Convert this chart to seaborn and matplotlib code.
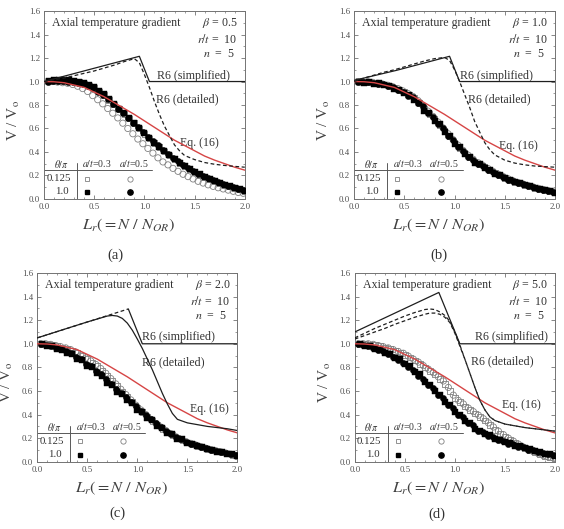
import matplotlib
matplotlib.use("Agg")
import matplotlib.pyplot as plt
import seaborn as sns

# Lr positions of the test points (circles sit just left of the squares)
lr_sq = [0.05, 0.1, 0.15, 0.2, 0.25, 0.3, 0.35, 0.4, 0.45, 0.5,
         0.55, 0.6, 0.65, 0.7, 0.75, 0.8, 0.85, 0.9, 0.95, 1.0,
         1.05, 1.1, 1.15, 1.2, 1.25, 1.3, 1.35, 1.4, 1.45, 1.5,
         1.55, 1.6, 1.65, 1.7, 1.75, 1.8, 1.85, 1.9, 1.95, 2.0]
lr_ci = [0.035, 0.085, 0.135, 0.185, 0.235, 0.285, 0.335, 0.385, 0.435, 0.485,
         0.535, 0.585, 0.635, 0.685, 0.735, 0.785, 0.835, 0.885, 0.935, 0.985,
         1.035, 1.085, 1.135, 1.185, 1.235, 1.285, 1.335, 1.385, 1.435, 1.485,
         1.535, 1.585, 1.635, 1.685, 1.735, 1.785, 1.835, 1.885, 1.935, 1.985]

# (a) beta = 0.5
a_sq_open = [1.0, 1.005, 1.005, 1.005, 1.005, 1.0, 0.995, 0.985, 0.965, 0.945,
             0.915, 0.885, 0.845, 0.805, 0.765, 0.725, 0.685, 0.645, 0.6, 0.555,
             0.515, 0.475, 0.44, 0.405, 0.37, 0.335, 0.305, 0.275, 0.25, 0.225,
             0.205, 0.185, 0.165, 0.148, 0.132, 0.118, 0.105, 0.092, 0.08, 0.068]
a_ci_open = [1.0, 1.0, 0.995, 0.99, 0.985, 0.975, 0.96, 0.94, 0.915, 0.88,
             0.845, 0.81, 0.77, 0.73, 0.69, 0.645, 0.6, 0.555, 0.51, 0.47,
             0.43, 0.39, 0.35, 0.315, 0.29, 0.26, 0.235, 0.21, 0.19, 0.17,
             0.15, 0.135, 0.12, 0.107, 0.095, 0.085, 0.075, 0.065, 0.055, 0.048]
a_sq_fill = [1.005, 1.01, 1.01, 1.01, 1.01, 1.005, 1.0, 0.99, 0.97, 0.95,
             0.92, 0.89, 0.85, 0.81, 0.77, 0.73, 0.69, 0.65, 0.605, 0.56,
             0.52, 0.48, 0.445, 0.41, 0.375, 0.34, 0.31, 0.28, 0.255, 0.23,
             0.21, 0.19, 0.17, 0.15, 0.135, 0.12, 0.107, 0.095, 0.082, 0.07]
a_ci_fill = [1.0, 1.005, 1.005, 1.005, 1.0, 0.995, 0.99, 0.98, 0.965, 0.945,
             0.915, 0.885, 0.85, 0.81, 0.77, 0.73, 0.69, 0.65, 0.61, 0.57,
             0.53, 0.49, 0.455, 0.42, 0.385, 0.35, 0.32, 0.29, 0.265, 0.24,
             0.215, 0.195, 0.175, 0.16, 0.14, 0.125, 0.11, 0.098, 0.085, 0.075]

# (b) beta = 1.0
b_sq_open = [1.0, 1.0, 0.995, 0.99, 0.98, 0.975, 0.96, 0.95, 0.93, 0.91,
             0.885, 0.86, 0.815, 0.77, 0.725, 0.68, 0.63, 0.58, 0.53, 0.48,
             0.435, 0.39, 0.355, 0.32, 0.295, 0.27, 0.245, 0.22, 0.2, 0.18,
             0.162, 0.145, 0.132, 0.12, 0.107, 0.095, 0.085, 0.075, 0.065, 0.055]
b_ci_open = [1.0, 1.0, 0.998, 0.993, 0.985, 0.978, 0.968, 0.955, 0.94, 0.92,
             0.898, 0.873, 0.838, 0.793, 0.748, 0.703, 0.655, 0.605, 0.555, 0.505,
             0.458, 0.413, 0.373, 0.338, 0.308, 0.283, 0.258, 0.233, 0.21, 0.19,
             0.171, 0.153, 0.138, 0.126, 0.113, 0.101, 0.09, 0.08, 0.07, 0.06]
b_sq_fill = [1.0, 0.99, 1.0, 0.98, 0.985, 0.97, 0.965, 0.94, 0.93, 0.9,
             0.885, 0.84, 0.82, 0.75, 0.73, 0.66, 0.64, 0.57, 0.54, 0.47,
             0.44, 0.38, 0.36, 0.31, 0.3, 0.26, 0.25, 0.215, 0.2, 0.175,
             0.165, 0.14, 0.135, 0.115, 0.11, 0.09, 0.088, 0.072, 0.068, 0.053]
b_ci_fill = [1.0, 0.995, 1.0, 0.985, 0.98, 0.975, 0.96, 0.95, 0.925, 0.915,
             0.88, 0.87, 0.82, 0.79, 0.73, 0.7, 0.64, 0.6, 0.54, 0.5,
             0.445, 0.41, 0.36, 0.335, 0.3, 0.28, 0.25, 0.23, 0.205, 0.19,
             0.165, 0.15, 0.135, 0.125, 0.11, 0.1, 0.088, 0.08, 0.068, 0.06]

# (c) beta = 2.0
c_sq_open = [1.0, 1.0, 0.99, 0.98, 0.97, 0.96, 0.94, 0.92, 0.895, 0.87,
             0.84, 0.81, 0.77, 0.73, 0.685, 0.64, 0.595, 0.55, 0.505, 0.46,
             0.42, 0.38, 0.345, 0.31, 0.28, 0.25, 0.225, 0.2, 0.182, 0.165,
             0.15, 0.135, 0.122, 0.11, 0.1, 0.09, 0.08, 0.07, 0.06, 0.05]
c_ci_open = [1.0, 1.0, 0.995, 0.985, 0.975, 0.965, 0.95, 0.93, 0.905, 0.88,
             0.855, 0.825, 0.79, 0.75, 0.705, 0.66, 0.615, 0.57, 0.525, 0.48,
             0.44, 0.4, 0.36, 0.325, 0.295, 0.265, 0.238, 0.212, 0.19, 0.172,
             0.156, 0.142, 0.128, 0.115, 0.104, 0.094, 0.084, 0.074, 0.064, 0.054]
c_sq_fill = [1.0, 0.985, 0.98, 0.955, 0.95, 0.92, 0.91, 0.87, 0.86, 0.81,
             0.8, 0.75, 0.73, 0.665, 0.65, 0.59, 0.575, 0.52, 0.5, 0.44,
             0.425, 0.37, 0.355, 0.3, 0.29, 0.245, 0.235, 0.195, 0.19, 0.16,
             0.155, 0.13, 0.125, 0.105, 0.1, 0.087, 0.082, 0.068, 0.063, 0.052]
c_ci_fill = [1.0, 0.99, 0.985, 0.965, 0.955, 0.935, 0.92, 0.89, 0.87, 0.83,
             0.81, 0.77, 0.745, 0.7, 0.66, 0.62, 0.58, 0.545, 0.51, 0.47,
             0.43, 0.395, 0.36, 0.325, 0.295, 0.265, 0.235, 0.21, 0.19, 0.172,
             0.155, 0.142, 0.128, 0.115, 0.103, 0.094, 0.084, 0.074, 0.065, 0.058]

# (d) beta = 5.0
d_sq_open = [1.0, 1.0, 0.995, 0.99, 0.98, 0.97, 0.955, 0.94, 0.925, 0.905,
             0.885, 0.86, 0.83, 0.8, 0.77, 0.74, 0.7, 0.66, 0.6, 0.54,
             0.505, 0.47, 0.44, 0.41, 0.38, 0.35, 0.31, 0.27, 0.24, 0.21,
             0.185, 0.16, 0.137, 0.115, 0.097, 0.08, 0.065, 0.05, 0.04, 0.03]
d_ci_open = [1.0, 1.0, 1.0, 0.995, 0.985, 0.975, 0.965, 0.95, 0.935, 0.92,
             0.895, 0.87, 0.845, 0.815, 0.785, 0.755, 0.72, 0.685, 0.63, 0.565,
             0.52, 0.49, 0.455, 0.425, 0.395, 0.365, 0.33, 0.295, 0.26, 0.23,
             0.2, 0.175, 0.15, 0.125, 0.103, 0.085, 0.068, 0.052, 0.04, 0.032]
d_sq_fill = [1.0, 0.985, 0.98, 0.955, 0.95, 0.925, 0.915, 0.88, 0.87, 0.83,
             0.81, 0.76, 0.74, 0.68, 0.655, 0.6, 0.57, 0.51, 0.48, 0.42,
             0.4, 0.35, 0.33, 0.28, 0.265, 0.235, 0.225, 0.195, 0.185, 0.165,
             0.158, 0.138, 0.13, 0.113, 0.105, 0.088, 0.082, 0.068, 0.062, 0.053]
d_ci_fill = [1.0, 0.99, 0.98, 0.965, 0.95, 0.935, 0.91, 0.89, 0.865, 0.84,
             0.8, 0.775, 0.73, 0.7, 0.65, 0.625, 0.565, 0.54, 0.48, 0.455,
             0.4, 0.38, 0.33, 0.31, 0.265, 0.255, 0.22, 0.21, 0.185, 0.178,
             0.155, 0.148, 0.128, 0.122, 0.103, 0.097, 0.08, 0.075, 0.063, 0.058]

# Eq. (16), same curve in every panel
eq16_x = [0.0, 0.1, 0.2, 0.3, 0.4, 0.5, 0.6, 0.7, 0.8, 0.9, 1.0,
          1.1, 1.2, 1.3, 1.4, 1.5, 1.6, 1.7, 1.8, 1.9, 2.0]
eq16_y = [1.0, 0.998, 0.99, 0.97, 0.95, 0.91, 0.87, 0.82, 0.77, 0.72, 0.665,
          0.61, 0.555, 0.5, 0.455, 0.41, 0.365, 0.33, 0.3, 0.27, 0.245]

# R6 simplified
a_simp_x = [0.0, 0.95, 1.05, 2.0]
a_simp_y = [1.0, 1.215, 1.0, 1.0]
b_simp_x = [0.0, 0.42, 0.95, 1.05, 2.0]
b_simp_y = [1.01, 1.095, 1.215, 1.0, 1.0]
c_simp_x = [0.0, 0.91, 1.05, 2.0]
c_simp_y = [1.05, 1.295, 1.0, 1.0]
d_simp_x = [0.0, 0.84, 1.05, 2.0]
d_simp_y = [1.1, 1.435, 1.0, 1.0]

# R6 detailed
det_x_ab = [0.0, 0.1, 0.2, 0.3, 0.4, 0.5, 0.6, 0.7, 0.8, 0.9, 0.95, 1.0, 1.05,
            1.1, 1.15, 1.2, 1.25, 1.3, 1.35, 1.4, 1.5, 1.6, 1.7, 1.8, 1.9, 2.0]
a_det_y = [1.0, 1.015, 1.03, 1.05, 1.07, 1.09, 1.115, 1.14, 1.17, 1.195, 1.16, 1.06, 0.95,
           0.83, 0.72, 0.62, 0.54, 0.46, 0.41, 0.37, 0.335, 0.31, 0.295, 0.285, 0.277, 0.27]
b_det_y = [1.0, 1.03, 1.055, 1.08, 1.1, 1.125, 1.15, 1.175, 1.195, 1.205, 1.18, 1.1, 1.0,
           0.89, 0.78, 0.66, 0.57, 0.48, 0.42, 0.375, 0.33, 0.305, 0.29, 0.28, 0.275, 0.27]
det_x_cd = [0.0, 0.1, 0.2, 0.3, 0.4, 0.5, 0.6, 0.7, 0.75, 0.8, 0.85, 0.9, 0.95, 1.0,
            1.05, 1.1, 1.15, 1.2, 1.25, 1.3, 1.35, 1.4, 1.5, 1.6, 1.7, 1.8, 1.9, 2.0]
c_det_y = [1.05, 1.077, 1.104, 1.131, 1.158, 1.185, 1.21, 1.235, 1.24, 1.235, 1.215, 1.175, 1.115, 1.04,
           0.96, 0.87, 0.78, 0.68, 0.58, 0.49, 0.41, 0.36, 0.33, 0.315, 0.3, 0.29, 0.28, 0.265]
d_det1_y = [1.05, 1.09, 1.13, 1.165, 1.2, 1.235, 1.265, 1.29, 1.295, 1.29, 1.27, 1.24, 1.19, 1.1,
            0.99, 0.87, 0.75, 0.63, 0.52, 0.44, 0.38, 0.35, 0.32, 0.305, 0.29, 0.28, 0.27, 0.26]
d_det2_y = [1.04, 1.07, 1.1, 1.13, 1.165, 1.195, 1.225, 1.25, 1.26, 1.26, 1.25, 1.225, 1.18, 1.09,
            0.98, 0.87, 0.75, 0.63, 0.52, 0.44, 0.38, 0.35, 0.32, 0.305, 0.29, 0.28, 0.27, 0.26]

betas = ['0.5', '1.0', '2.0', '5.0']
tags = ['(a)', '(b)', '(c)', '(d)']

sns.set_theme(style='ticks')
plt.rcParams['font.family'] = ['Liberation Serif', 'DejaVu Serif']
plt.rcParams['mathtext.fontset'] = 'stix'

fig = plt.figure(figsize=(5.64, 5.29), dpi=100)
boxes = [[0.078, 0.624, 0.356, 0.355], [0.628, 0.624, 0.356, 0.355],
         [0.066, 0.127, 0.355, 0.357], [0.629, 0.127, 0.355, 0.357]]
tag_pos = [(0.204, 0.518), (0.778, 0.518), (0.209, 0.03), (0.775, 0.027)]

panels = [
    dict(sq_o=a_sq_open, ci_o=a_ci_open, sq_f=a_sq_fill, ci_f=a_ci_fill,
         sx=a_simp_x, sy=a_simp_y, dets=[(det_x_ab, a_det_y)],
         simp_lab=(1.13, 1.046), det_lab=(1.12, 0.85), eq_lab=(1.35, 0.475)),
    dict(sq_o=b_sq_open, ci_o=b_ci_open, sq_f=b_sq_fill, ci_f=b_ci_fill,
         sx=b_simp_x, sy=b_simp_y, dets=[(det_x_ab, b_det_y)],
         simp_lab=(1.05, 1.046), det_lab=(1.13, 0.85), eq_lab=(1.44, 0.447)),
    dict(sq_o=c_sq_open, ci_o=c_ci_open, sq_f=c_sq_fill, ci_f=c_ci_fill,
         sx=c_simp_x, sy=c_simp_y, dets=[(det_x_cd, c_det_y)],
         simp_lab=(1.05, 1.054), det_lab=(1.05, 0.844), eq_lab=(1.53, 0.45)),
    dict(sq_o=d_sq_open, ci_o=d_ci_open, sq_f=d_sq_fill, ci_f=d_ci_fill,
         sx=d_simp_x, sy=d_simp_y, dets=[(det_x_cd, d_det1_y), (det_x_cd, d_det2_y)],
         simp_lab=(1.2, 1.055), det_lab=(1.16, 0.85), eq_lab=(1.47, 0.48)),
]

red = '#d64545'
ink = '#1e1e1e'
grey = '0.45'
txt = '0.2'
fs = 8.6
ms = 20

for i, p in enumerate(panels):
    ax = fig.add_axes(boxes[i])

    # test points
    sns.scatterplot(x=lr_sq, y=p['sq_o'], ax=ax, marker='s', s=ms * 0.8,
                    facecolor='none', edgecolor='0.5', linewidth=0.6, zorder=3)
    sns.scatterplot(x=lr_ci, y=p['ci_o'], ax=ax, marker='o', s=ms,
                    facecolor='none', edgecolor='0.5', linewidth=0.6, zorder=3)
    sns.scatterplot(x=lr_sq, y=p['sq_f'], ax=ax, marker='s', s=ms * 0.8,
                    color='black', edgecolor='black', linewidth=0.3, zorder=4)
    sns.scatterplot(x=lr_ci, y=p['ci_f'], ax=ax, marker='o', s=ms,
                    color='black', edgecolor='black', linewidth=0.3, zorder=4)

    # curves
    sns.lineplot(x=eq16_x, y=eq16_y, ax=ax, color=red, linewidth=1.0,
                 estimator=None, sort=False, zorder=5)
    if i == 2:
        # panel (c): rising part of the simplified line shows dashed, detailed curve solid
        sns.lineplot(x=p['sx'][:2], y=p['sy'][:2], ax=ax, color=ink, linewidth=0.9,
                     linestyle=(0, (3, 2)), estimator=None, sort=False, zorder=5)
        sns.lineplot(x=p['sx'][1:], y=p['sy'][1:], ax=ax, color=ink, linewidth=0.9,
                     estimator=None, sort=False, zorder=5)
        det_style = '-'
    else:
        sns.lineplot(x=p['sx'], y=p['sy'], ax=ax, color=ink, linewidth=0.9,
                     estimator=None, sort=False, zorder=5)
        det_style = (0, (3, 2))
    for dx, dy in p['dets']:
        sns.lineplot(x=dx, y=dy, ax=ax, color=ink, linewidth=0.9, linestyle=det_style,
                     estimator=None, sort=False, zorder=5)

    ax.set_xlim(0, 2.0)
    ax.set_ylim(0, 1.6)
    ax.set_xticks([0.0, 0.5, 1.0, 1.5, 2.0])
    ax.set_xticklabels(['0.0', '0.5', '1.0', '1.5', '2.0'])
    ax.set_xticks([k / 10 for k in range(21)], minor=True)
    ax.set_yticks([0.0, 0.2, 0.4, 0.6, 0.8, 1.0, 1.2, 1.4, 1.6])
    ax.set_yticklabels(['0.0', '0.2', '0.4', '0.6', '0.8', '1.0', '1.2', '1.4', '1.6'])
    ax.set_yticks([k / 10 for k in range(17)], minor=True)
    ax.tick_params(which='both', direction='in', top=True, right=True,
                   color=grey, labelsize=6.3, labelcolor='0.3', pad=3)
    ax.tick_params(which='major', length=3, width=0.6)
    ax.tick_params(which='minor', length=1.6, width=0.5)
    for sp in ax.spines.values():
        sp.set_color(grey)
        sp.set_linewidth(0.7)

    ax.set_xlabel(r'$L_r(=N\ /\ N_{OR})$', fontsize=11.8, color='0.25')
    ax.xaxis.set_label_coords(0.42, -0.095)
    ax.set_ylabel(r'V / V$_\mathrm{o}$', fontsize=11, color='0.25')
    ax.yaxis.set_label_coords(-0.11, 0.42)

    # annotations
    ax.text(0.04, 0.935, 'Axial temperature gradient', transform=ax.transAxes,
            fontsize=fs, ha='left', va='center', color=txt)
    ax.text(0.965, 0.935, r'$\beta$ = ' + betas[i], transform=ax.transAxes,
            fontsize=fs, ha='right', va='center', color=txt)
    ax.text(0.965, 0.85, r'$r/t$ =  10', transform=ax.transAxes,
            fontsize=fs, ha='right', va='center', color=txt)
    ax.text(0.95, 0.77, r'$n$  =  5', transform=ax.transAxes,
            fontsize=fs, ha='right', va='center', color=txt)
    ax.text(*p['simp_lab'], 'R6 (simplified)', fontsize=fs, ha='left', va='center', color=txt)
    ax.text(*p['det_lab'], 'R6 (detailed)', fontsize=fs, ha='left', va='center', color=txt)
    ax.text(*p['eq_lab'], 'Eq. (16)', fontsize=fs, ha='left', va='center', color=txt)

    # key table in the lower left corner
    tr = ax.transAxes
    ax.plot([0.0, 0.54], [0.154, 0.154], transform=tr, color='0.35', lw=0.7)
    ax.plot([0.165, 0.165], [0.0, 0.19], transform=tr, color='0.35', lw=0.7)
    ax.text(0.085, 0.187, r'$\theta/\pi$', transform=tr, fontsize=7, ha='center', va='center', color=txt)
    ax.text(0.265, 0.187, r'$a/t$=0.3', transform=tr, fontsize=7, ha='center', va='center', color=txt)
    ax.text(0.445, 0.187, r'$a/t$=0.5', transform=tr, fontsize=7, ha='center', va='center', color=txt)
    ax.text(0.072, 0.108, '0.125', transform=tr, fontsize=7.8, ha='center', va='center', color=txt)
    ax.text(0.09, 0.037, '1.0', transform=tr, fontsize=7.8, ha='center', va='center', color=txt)
    ax.plot([0.215], [0.108], transform=tr, marker='s', ms=3.2, mfc='none', mec='0.5', mew=0.6)
    ax.plot([0.43], [0.108], transform=tr, marker='o', ms=3.8, mfc='none', mec='0.5', mew=0.6)
    ax.plot([0.215], [0.037], transform=tr, marker='s', ms=3.2, color='black')
    ax.plot([0.43], [0.037], transform=tr, marker='o', ms=3.8, color='black')

    fig.text(tag_pos[i][0], tag_pos[i][1], tags[i], fontsize=10.5, ha='center', va='center', color=txt)

fig.savefig('out.png', dpi=100)
